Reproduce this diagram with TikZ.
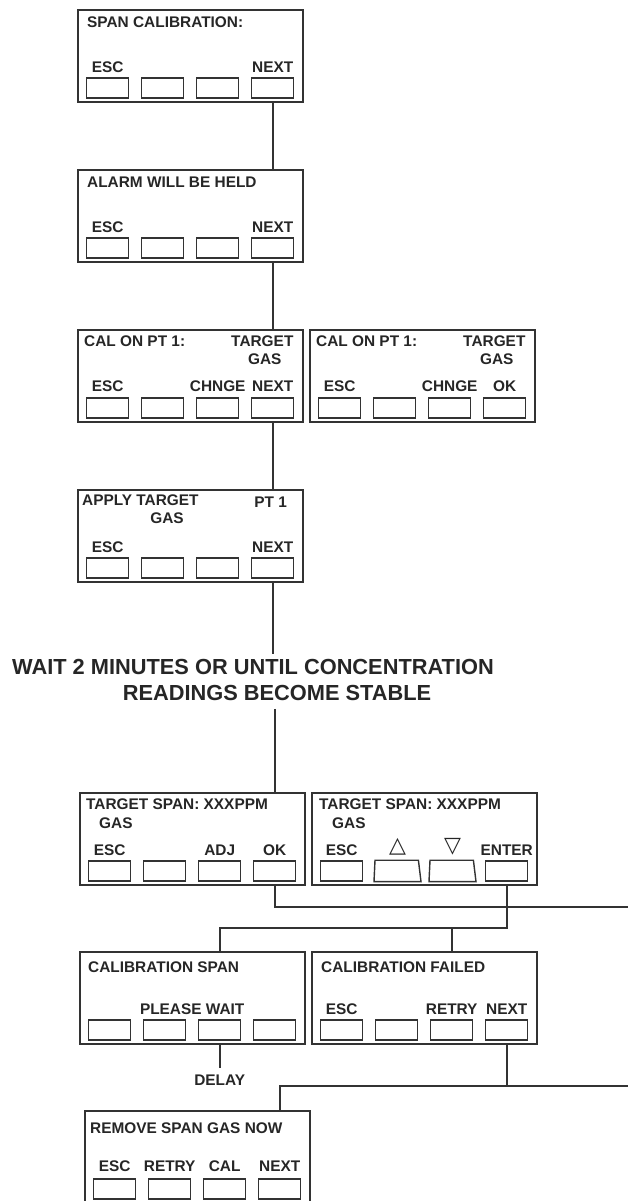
\documentclass[tikz,border=0pt]{standalone}
\usepackage{fontspec}
\setmainfont{Liberation Sans}
\newfontfamily\symfont{DejaVu Sans}
\usetikzlibrary{calc}

% one display: frame plus the keys listed in #4
\newcommand\calpanel[4]{%
	\node[panel] (#1) at (#2,#3) {};
	\foreach \k in {#4}
		\node[key] (#1k\k) at ($(#1.south west)+({9+55*(\k-1)},-4)$) {};
}

\begin{document}
\begin{tikzpicture}[x=1pt,y=-1pt,
		panel/.style={draw=black!80,line width=1.6pt,minimum width=225pt,minimum height=92pt,inner sep=0pt,anchor=north west},
		key/.style={draw=black!80,line width=1.4pt,minimum width=42pt,minimum height=20pt,inner sep=0pt,anchor=south west},
		keyline/.style={draw=black!80,line width=1.4pt,line join=miter},
		txt/.style={text=black!85,inner sep=0pt,font=\bfseries\fontsize{15.4}{18}\selectfont},
		head/.style={txt,anchor=west},
		big/.style={txt,font=\bfseries\fontsize{21.8}{24}\selectfont},
		wire/.style={draw=black!80,line width=1.6pt}]
	\useasboundingbox (0,0) rectangle (628,1201);
	\clip (0,0) rectangle (628,1201);

	% upper column
	\calpanel{p1}{77}{9}{1,...,4}
	\node[head] (p1t) at ($(p1.north west)+(10,13)$) {SPAN CALIBRATION:};
	\foreach \k/\t in {1/ESC,4/NEXT}
		\node[txt] (p1l\k) at ($(p1k\k.north)+(0,-10)$) {\t};

	\calpanel{p2}{77}{169}{1,...,4}
	\node[head] (p2t) at ($(p2.north west)+(10,13)$) {ALARM WILL BE HELD};
	\foreach \k/\t in {1/ESC,4/NEXT}
		\node[txt] (p2l\k) at ($(p2k\k.north)+(0,-10)$) {\t};

	\calpanel{p3}{77}{329}{1,...,4}
	\node[head] (p3t) at ($(p3.north west)+(7,12)$) {CAL ON PT 1:};
	\node[txt,anchor=east] (p3g1) at ($(p3.north east)+(-10,12)$) {TARGET};
	\node[txt,anchor=east] (p3g2) at ($(p3.north east)+(-22,30)$) {GAS};
	\foreach \k/\t in {1/ESC,3/CHNGE,4/NEXT}
		\node[txt] (p3l\k) at ($(p3k\k.north)+(0,-11)$) {\t};

	\calpanel{q3}{309}{329}{1,...,4}
	\node[head] (q3t) at ($(q3.north west)+(7,12)$) {CAL ON PT 1:};
	\node[txt,anchor=east] (q3g1) at ($(q3.north east)+(-10,12)$) {TARGET};
	\node[txt,anchor=east] (q3g2) at ($(q3.north east)+(-22,30)$) {GAS};
	\foreach \k/\t in {1/ESC,3/CHNGE,4/OK}
		\node[txt] (q3l\k) at ($(q3k\k.north)+(0,-11)$) {\t};

	\calpanel{p4}{77}{489}{1,...,4}
	\node[head] (p4t) at ($(p4.north west)+(5,11)$) {APPLY TARGET};
	\node[txt] (p4g1) at ($(p4k4.center)+(-2,-66)$) {PT 1};
	\node[txt] (p4g2) at ($(p4.north west)+(90,29)$) {GAS};
	\foreach \k/\t in {1/ESC,4/NEXT}
		\node[txt] (p4l\k) at ($(p4k\k.north)+(0,-10)$) {\t};

	\node[big] (wait1) at (253,667) {WAIT 2 MINUTES OR UNTIL CONCENTRATION};
	\node[big] (wait2) at (277,693) {READINGS BECOME STABLE};

	% lower part
	\calpanel{p5}{79}{792}{1,...,4}
	\node[head] (p5t) at ($(p5.north west)+(7,12)$) {TARGET SPAN: XXXPPM};
	\node[head] (p5g) at ($(p5.north west)+(20,31)$) {GAS};
	\foreach \k/\t in {1/ESC,3/ADJ,4/OK}
		\node[txt] (p5l\k) at ($(p5k\k.north)+(0,-10)$) {\t};

	\calpanel{q5}{311}{792}{1,4}
	\foreach \k in {2,3}{
		\node[key,draw=none] (q5k\k) at ($(q5.south west)+({9+55*(\k-1)},-4)$) {};
		\draw[keyline] ($(q5k\k.south west)+(-1,0)$) -- ++(47,0) -- (q5k\k.north east) -- (q5k\k.north west) -- cycle;
	}
	\node[head] (q5t) at ($(q5.north west)+(8,12)$) {TARGET SPAN: XXXPPM};
	\node[head] (q5g) at ($(q5.north west)+(21,31)$) {GAS};
	\foreach \k/\t in {1/ESC,4/ENTER}
		\node[txt] (q5l\k) at ($(q5k\k.north)+(0,-10)$) {\t};
	\node[txt,font=\symfont\fontsize{22}{24}\selectfont] (q5l2) at ($(q5k2.north)+(1,-13)$) {△};
	\node[txt,font=\symfont\fontsize{22}{24}\selectfont] (q5l3) at ($(q5k3.north)+(1,-13)$) {▽};

	\calpanel{p6}{79}{951}{1,...,4}
	\node[head] (p6t) at ($(p6.north west)+(9,16)$) {CALIBRATION SPAN};
	\node[txt] (p6w) at ($(p6k2.north)!0.5!(p6k3.north)+(0,-10)$) {PLEASE WAIT};
	\node[txt] (delay) at (p6k3 |- 0,1080) {DELAY};

	\calpanel{q6}{311}{951}{1,...,4}
	\node[head] (q6t) at ($(q6.north west)+(10,16)$) {CALIBRATION FAILED};
	\foreach \k/\t in {1/ESC,3/RETRY,4/NEXT}
		\node[txt] (q6l\k) at ($(q6k\k.north)+(0,-10)$) {\t};

	\calpanel{p7}{84}{1110}{1,...,4}
	\node[head] (p7t) at ($(p7.north west)+(6,18)$) {REMOVE SPAN GAS NOW};
	\foreach \k/\t in {1/ESC,2/RETRY,3/CAL,4/NEXT}
		\node[txt] (p7l\k) at ($(p7k\k.north)+(0,-12)$) {\t};

	% connectors
	\coordinate (r1) at (628,907);
	\coordinate (bus1) at (0,928);
	\coordinate (r2) at (628,1086);
	\draw[wire] (p1k4 |- p1.south) -- (p1k4 |- p2.north);
	\draw[wire] (p2k4 |- p2.south) -- (p2k4 |- p3.north);
	\draw[wire] (p3k4 |- p3.south) -- (p3k4 |- p4.north);
	\draw[wire,shorten >=5pt] (p4k4 |- p4.south) -- (p4k4 |- wait1.north);
	\draw[wire,shorten <=8pt] (p5k4 |- wait2.south) -- (p5k4 |- p5.north);
	\draw[wire] (p5k4 |- p5.south) |- (r1);
	\draw[wire] (q5k4 |- q5.south) |- (bus1 -| p6k3) -- (p6k3 |- p6.north);
	\draw[wire] (bus1 -| q6k3) -- (q6k3 |- q6.north);
	\draw[wire,shorten >=7pt] (p6k3 |- p6.south) -- (delay.north);
	\draw[wire] (q6k4 |- q6.south) -- (q6k4 |- r2);
	\draw[wire] (p7k4 |- p7.north) |- (r2);
\end{tikzpicture}
\end{document}
